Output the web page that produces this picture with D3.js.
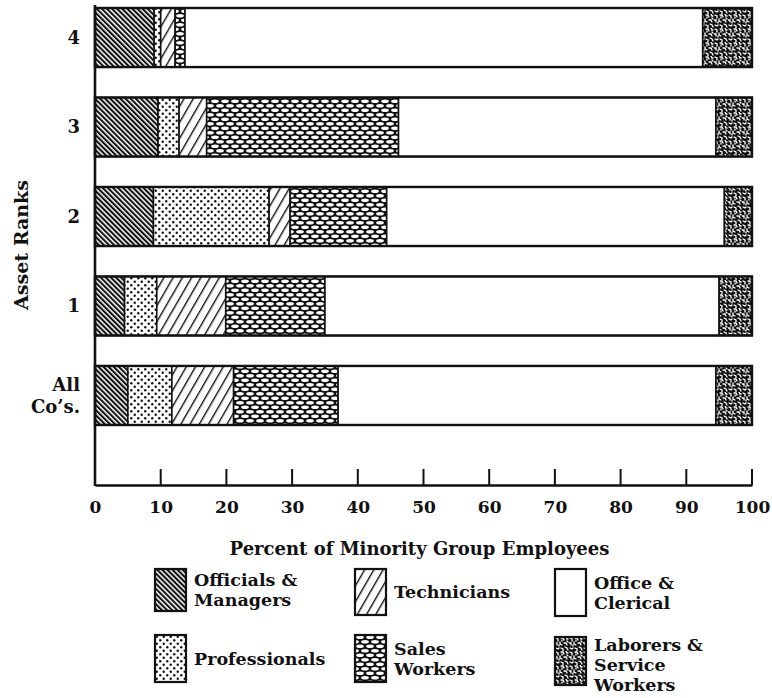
<!DOCTYPE html>
<html>
<head>
<meta charset="utf-8">
<script src="https://cdn.jsdelivr.net/npm/d3@7"></script>
<style>
  body { margin: 0; background: #fff; }
  text { font-family: "DejaVu Serif", "Liberation Serif", serif; fill: #111; font-weight: bold; }
</style>
</head>
<body>
<div id="chart"></div>
<script>
// Data (percent of minority group employees by asset rank)
var ranks = ["4", "3", "2", "1", "All Co's."];
var categories = ["officials", "professionals", "technicians", "sales", "office", "laborers"];
var officials     = [9.0, 9.6, 8.9, 4.5, 5.0];
var professionals = [1.0, 3.2, 17.6, 4.9, 6.7];
var technicians   = [2.2, 4.2, 3.2, 10.5, 9.4];
var sales         = [1.5, 29.2, 14.7, 15.1, 15.9];
var office        = [78.8, 48.3, 51.4, 60.0, 57.5];
var laborers      = [7.5, 5.5, 4.2, 5.0, 5.5];
var xTicks = [0, 10, 20, 30, 40, 50, 60, 70, 80, 90, 100];

var legendItems = [
  { key: "officials", lines: ["Officials &", "Managers"] },
  { key: "technicians", lines: ["Technicians"] },
  { key: "office", lines: ["Office &", "Clerical"] },
  { key: "professionals", lines: ["Professionals"] },
  { key: "sales", lines: ["Sales", "Workers"] },
  { key: "laborers", lines: ["Laborers &", "Service", "Workers"] }
];

var series = {
  officials: officials, professionals: professionals, technicians: technicians,
  sales: sales, office: office, laborers: laborers
};

var table = ranks.map(function(r, i) {
  var row = { rank: r };
  categories.forEach(function(c) { row[c] = series[c][i]; });
  return row;
});

var W = 772, H = 698;
var svg = d3.select("#chart").append("svg")
  .attr("width", W)
  .attr("height", H);

// ---- patterns ----
var defs = svg.append("defs");

// officials: dense "\" hatching
var p1 = defs.append("pattern").attr("id", "pat-officials")
  .attr("patternUnits", "userSpaceOnUse")
  .attr("width", 3.6).attr("height", 10)
  .attr("patternTransform", "rotate(-45)");
p1.append("rect").attr("width", 3.6).attr("height", 10).attr("fill", "#fff");
p1.append("rect").attr("width", 2.1).attr("height", 10).attr("fill", "#111");

// professionals: staggered dots
var p2 = defs.append("pattern").attr("id", "pat-professionals")
  .attr("patternUnits", "userSpaceOnUse")
  .attr("width", 7).attr("height", 7);
p2.append("rect").attr("width", 7).attr("height", 7).attr("fill", "#fff");
p2.append("circle").attr("cx", 1.75).attr("cy", 1.75).attr("r", 1.2).attr("fill", "#111");
p2.append("circle").attr("cx", 5.25).attr("cy", 5.25).attr("r", 1.2).attr("fill", "#111");

// technicians: sparse "/" lines
var p3 = defs.append("pattern").attr("id", "pat-technicians")
  .attr("patternUnits", "userSpaceOnUse")
  .attr("width", 8).attr("height", 10)
  .attr("patternTransform", "rotate(30)");
p3.append("rect").attr("width", 8).attr("height", 10).attr("fill", "#fff");
p3.append("rect").attr("width", 1.4).attr("height", 10).attr("fill", "#111");

// sales: black mesh with white lens shapes
var p4 = defs.append("pattern").attr("id", "pat-sales")
  .attr("patternUnits", "userSpaceOnUse")
  .attr("width", 10).attr("height", 9);
p4.append("rect").attr("width", 10).attr("height", 9).attr("fill", "#111");
[[5, 2.25], [0, 6.75], [10, 6.75]].forEach(function(c) {
  p4.append("ellipse").attr("cx", c[0]).attr("cy", c[1])
    .attr("rx", 3.9).attr("ry", 1.8).attr("fill", "#fff");
});

// office: plain white
var p5 = defs.append("pattern").attr("id", "pat-office")
  .attr("patternUnits", "userSpaceOnUse")
  .attr("width", 4).attr("height", 4);
p5.append("rect").attr("width", 4).attr("height", 4).attr("fill", "#fff");

// laborers: black with white worm-like speckles
var p6 = defs.append("pattern").attr("id", "pat-laborers")
  .attr("patternUnits", "userSpaceOnUse")
  .attr("width", 14).attr("height", 14);
p6.append("rect").attr("width", 14).attr("height", 14).attr("fill", "#111");
var worms = [
  "M1,1 L3,2 L3,4", "M6,1 L8,1 L9,3", "M11,0 L12,2 L13,2",
  "M0,6 L2,6 L2,8", "M5,5 L5,7 L7,8", "M9,6 L11,6 L12,8",
  "M1,11 L3,12 L4,11", "M6,11 L8,12 L8,14", "M10,10 L12,11 L13,13",
  "M4,8 L4,9", "M12,4 L13,5", "M7,3 L7,4"
];
worms.forEach(function(d) {
  p6.append("path").attr("d", d).attr("fill", "none")
    .attr("stroke", "#fff").attr("stroke-width", 1.3)
    .attr("stroke-linecap", "round");
});

// ---- scales ----
var x = d3.scaleLinear().domain([0, 100]).range([95, 752]);
var y = d3.scaleBand().domain(ranks).range([8, 425]).paddingInner(0.34).paddingOuter(0);
var axisY = 485;

var stack = d3.stack().keys(categories);
var layers = stack(table);

// ---- bars ----
var layer = svg.selectAll("g.layer")
  .data(layers)
  .enter()
  .append("g")
  .attr("class", "layer");

layer.selectAll("rect")
  .data(function(d) { return d.map(function(v) { return { key: d.key, v: v }; }); })
  .enter()
  .append("rect")
  .attr("x", function(d) { return x(d.v[0]); })
  .attr("y", function(d) { return y(d.v.data.rank); })
  .attr("width", function(d) { return x(d.v[1]) - x(d.v[0]); })
  .attr("height", y.bandwidth())
  .attr("fill", function(d) { return "url(#pat-" + d.key + ")"; })
  .attr("stroke", "#111")
  .attr("stroke-width", 1.6);

// outer outline of each bar
svg.selectAll("rect.outline")
  .data(ranks)
  .enter()
  .append("rect")
  .attr("class", "outline")
  .attr("x", x(0))
  .attr("y", function(d) { return y(d); })
  .attr("width", x(100) - x(0))
  .attr("height", y.bandwidth())
  .attr("fill", "none")
  .attr("stroke", "#111")
  .attr("stroke-width", 2.4);

// ---- axes ----
var xAxis = d3.axisBottom(x)
  .tickValues(xTicks)
  .tickSize(0)
  .tickPadding(16)
  .tickFormat(d3.format("d"));

var xAxisGroup = svg.append("g")
  .attr("transform", "translate(0," + axisY + ")")
  .call(xAxis);
xAxisGroup.select(".domain").attr("stroke", "#111").attr("stroke-width", 2.4);
xAxisGroup.selectAll(".tick text")
  .attr("font-size", "17px")
  .attr("font-family", "DejaVu Serif")
  .attr("font-weight", "bold")
  .attr("fill", "#111");

// inward ticks
svg.append("g").selectAll("line")
  .data(xTicks.slice(1))
  .enter()
  .append("line")
  .attr("x1", function(d) { return x(d); })
  .attr("x2", function(d) { return x(d); })
  .attr("y1", axisY)
  .attr("y2", axisY - 16)
  .attr("stroke", "#111")
  .attr("stroke-width", 2);

// y axis line
svg.append("line")
  .attr("x1", x(0)).attr("x2", x(0))
  .attr("y1", 5).attr("y2", axisY + 1)
  .attr("stroke", "#111")
  .attr("stroke-width", 2.6);

// y category labels
var yLabels = svg.append("g").selectAll("text")
  .data(ranks)
  .enter()
  .append("text")
  .attr("x", 80)
  .attr("y", function(d) { return y(d) + y.bandwidth() / 2; })
  .attr("text-anchor", "end")
  .attr("font-size", "18px");

yLabels.each(function(d) {
  var t = d3.select(this);
  var parts = d === "All Co's." ? ["All", "Co’s."] : [d];
  parts.forEach(function(p, i) {
    t.append("tspan")
      .attr("x", 80)
      .attr("dy", i === 0 ? (parts.length > 1 ? "-0.25em" : "0.35em") : "1.2em")
      .text(p);
  });
});

// axis titles
svg.append("text")
  .attr("x", x(50) - 4)
  .attr("y", 555)
  .attr("text-anchor", "middle")
  .attr("font-size", "18px")
  .text("Percent of Minority Group Employees");

svg.append("text")
  .attr("transform", "translate(28,245) rotate(-90)")
  .attr("text-anchor", "middle")
  .attr("font-size", "19px")
  .text("Asset Ranks");

// ---- legend ----
var legendPos = [
  { x: 155, y: 569, h: 42 }, { x: 355, y: 569, h: 46 }, { x: 555, y: 569, h: 47 },
  { x: 155, y: 635, h: 47 }, { x: 355, y: 635, h: 47 }, { x: 555, y: 637, h: 48 }
];

var legend = svg.selectAll(".legend")
  .data(legendItems)
  .enter()
  .append("g")
  .attr("class", "legend")
  .attr("transform", function(d, i) {
    return "translate(" + legendPos[i].x + "," + legendPos[i].y + ")";
  });

legend.append("rect")
  .attr("width", 31)
  .attr("height", function(d, i) { return legendPos[i].h; })
  .attr("fill", function(d) { return "url(#pat-" + d.key + ")"; })
  .attr("stroke", "#111")
  .attr("stroke-width", 2.2);

legend.each(function(d, i) {
  var g = d3.select(this);
  var h = legendPos[i].h;
  var n = d.lines.length;
  var lh = 20;
  var start = h / 2 - (n - 1) * lh / 2;
  if (n === 3) start = 8;
  d.lines.forEach(function(line, j) {
    g.append("text")
      .attr("x", 39)
      .attr("y", start + j * lh)
      .attr("dy", "0.35em")
      .attr("font-size", "17.5px")
      .text(line);
  });
});
</script>
</body>
</html>
